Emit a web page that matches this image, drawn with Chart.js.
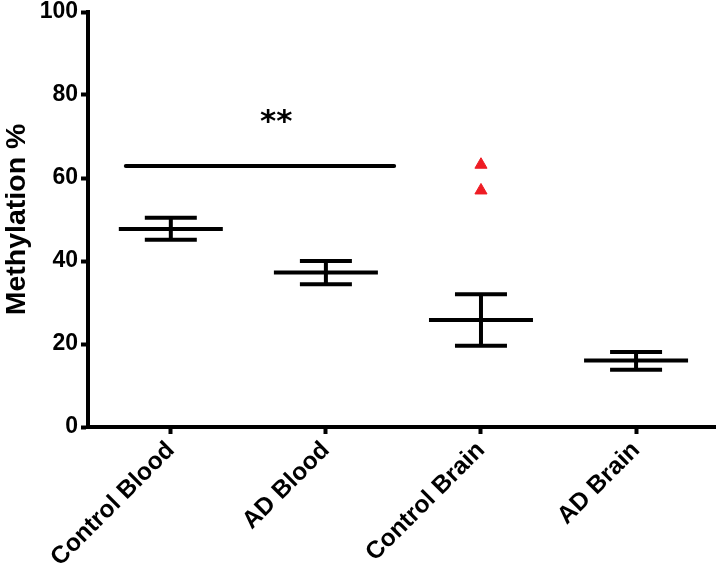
<!DOCTYPE html>
<html lang="en">
<head>
  <meta charset="UTF-8" />
  <title>Methylation %</title>
  <script src="https://cdn.jsdelivr.net/npm/chart.js"></script>
  <style>
    html, body { margin: 0; padding: 0; background: #fff; }
    .chart-box { width: 718px; height: 575px; position: relative; }
  </style>
</head>
<body>
  <div class="chart-box">
    <canvas id="methChart"></canvas>
  </div>

  <script>
    // values
    const categories = ['Control Blood', 'AD Blood', 'Control Brain', 'AD Brain'];
    const meanValues = [47.7, 37.2, 25.8, 16.0];
    const lowerValues = [45.1, 34.4, 19.6, 13.8];
    const upperValues = [50.4, 40.0, 32.0, 18.1];
    const outlierValues = [63.2, 57.0];
    const outlierGroup = 3;
    const yTicks = [0, 20, 40, 60, 80, 100];
    const sigSpan = [0.71, 2.44];
    const sigLevel = 62.9;
    const sigLabel = '**';
    const sigLabelAt = [1.68, 74.3];

    const font = 'Liberation Sans';
    const pos = i => i + 1;

    const stemData = [];
    categories.forEach((c, i) => {
      stemData.push({ x: pos(i), y: lowerValues[i] });
      stemData.push({ x: pos(i), y: upperValues[i] });
      stemData.push({ x: pos(i), y: null });
    });

    // no extra room for overhanging labels, the plot box is fixed
    const noPad = scale => {
      scale.paddingTop = 0;
      scale.paddingBottom = 0;
      scale.paddingLeft = 0;
      scale.paddingRight = 0;
    };

    const sigText = {
      id: 'sigText',
      afterDatasetsDraw(chart) {
        const ctx = chart.ctx;
        ctx.save();
        ctx.fillStyle = '#000';
        ctx.font = 'bold 31px "DejaVu Sans"';
        ctx.textAlign = 'center';
        ctx.textBaseline = 'middle';
        ctx.fillText(sigLabel,
          chart.scales.x.getPixelForValue(sigLabelAt[0]),
          chart.scales.y.getPixelForValue(sigLabelAt[1]) + 4);
        ctx.restore();
      }
    };

    new Chart(document.getElementById('methChart').getContext('2d'), {
      type: 'scatter',
      data: {
        datasets: [
          {
            label: 'mean',
            data: categories.map((c, i) => ({ x: pos(i), y: meanValues[i] })),
            pointStyle: 'line',
            pointRadius: 52,
            borderWidth: 4,
            borderColor: '#000',
            clip: false
          },
          {
            label: 'caps',
            data: categories.flatMap((c, i) => [
              { x: pos(i), y: lowerValues[i] },
              { x: pos(i), y: upperValues[i] }
            ]),
            pointStyle: 'line',
            pointRadius: 26,
            borderWidth: 4,
            borderColor: '#000',
            clip: false
          },
          {
            label: 'stems',
            data: stemData,
            showLine: true,
            spanGaps: false,
            pointRadius: 0,
            borderWidth: 4,
            borderColor: '#000',
            clip: false
          },
          {
            label: 'significance',
            data: [{ x: sigSpan[0], y: sigLevel }, { x: sigSpan[1], y: sigLevel }],
            showLine: true,
            pointRadius: 0,
            borderWidth: 4,
            borderColor: '#000',
            borderCapStyle: 'round',
            clip: false
          },
          {
            label: 'outliers',
            data: outlierValues.map(v => ({ x: outlierGroup, y: v })),
            pointStyle: 'triangle',
            pointRadius: 7,
            borderWidth: 1,
            borderColor: '#ee1c24',
            backgroundColor: '#ee1c24',
            clip: false
          }
        ]
      },
      options: {
        responsive: true,
        maintainAspectRatio: false,
        animation: false,
        layout: { autoPadding: false, padding: { top: 12, right: 3, left: 0, bottom: 0 } },
        plugins: {
          legend: { display: false },
          tooltip: { enabled: false }
        },
        scales: {
          x: {
            type: 'linear',
            min: 0.466,
            max: 4.509,
            afterBuildTicks: scale => { scale.ticks = categories.map((c, i) => ({ value: pos(i) })); },
            afterFit: scale => { scale.height = 148; noPad(scale); },
            ticks: {
              callback: v => categories[v - 1],
              minRotation: 45,
              maxRotation: 45,
              padding: 2,
              color: '#000',
              font: { family: font, size: 24.5, weight: 'bold' }
            },
            grid: { drawOnChartArea: false, drawTicks: true, tickLength: 7, tickWidth: 4, tickColor: '#000' },
            border: { display: true, width: 4, color: '#000' }
          },
          y: {
            min: 0,
            max: 100,
            afterBuildTicks: scale => { scale.ticks = yTicks.map(v => ({ value: v })); },
            afterFit: scale => { scale.width = 88; noPad(scale); },
            ticks: {
              padding: 3,
              color: '#000',
              font: { family: font, size: 23, weight: 'bold' }
            },
            title: {
              display: true,
              text: 'Methylation %',
              color: '#000',
              padding: 0,
              font: { family: font, size: 28.5, weight: 'bold' }
            },
            grid: { drawOnChartArea: false, drawTicks: true, tickLength: 7, tickWidth: 4, tickColor: '#000' },
            border: { display: true, width: 4, color: '#000' }
          }
        }
      },
      plugins: [sigText]
    });
  </script>
</body>
</html>
